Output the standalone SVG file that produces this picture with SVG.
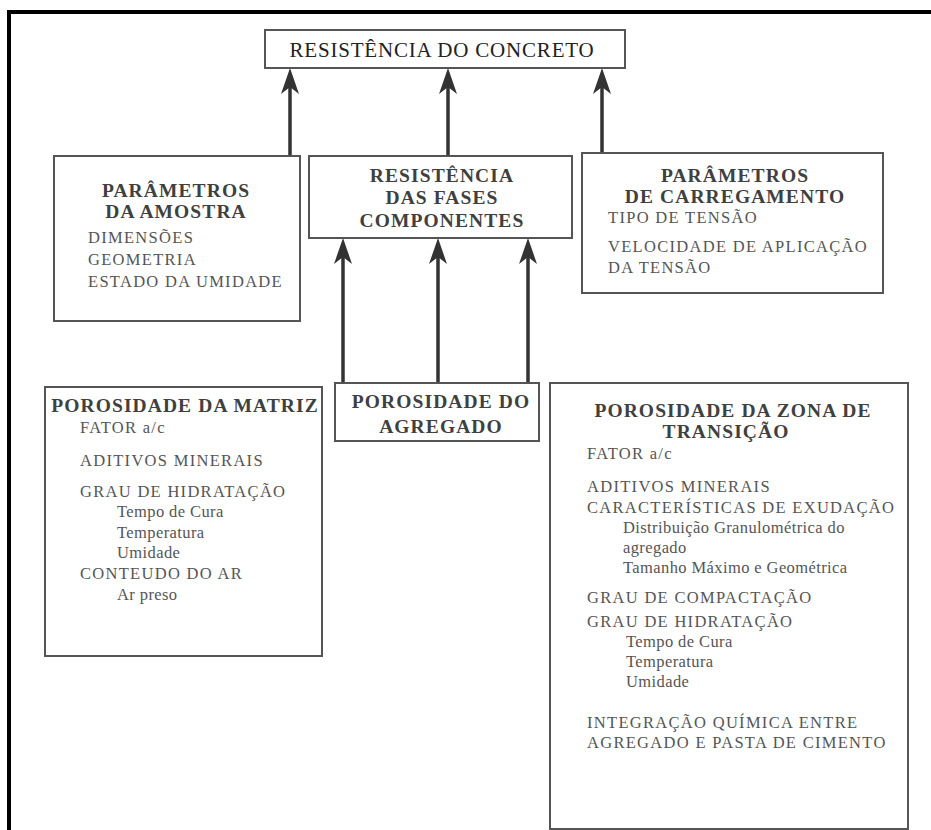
<svg xmlns="http://www.w3.org/2000/svg" width="931" height="830" viewBox="0 0 931 830">
<style>
.box{fill:#fff;stroke:#555;stroke-width:2}
.hd{font-family:"Liberation Serif","Times New Roman",serif;font-weight:bold;font-size:19.5px;letter-spacing:1.1px;fill:#404040;text-anchor:middle}
.it{font-family:"Liberation Serif","Times New Roman",serif;font-size:16.5px;letter-spacing:1.3px;fill:#555}
.lc{font-family:"Liberation Serif","Times New Roman",serif;font-size:16.5px;letter-spacing:0.4px;fill:#555}
.top{font-family:"Liberation Serif","Times New Roman",serif;font-size:21px;letter-spacing:0.8px;fill:#222;text-anchor:middle}
.arr{stroke:#333;stroke-width:3.5;fill:none;marker-end:url(#ah)}
.frame{stroke:#000;stroke-width:4}
</style>
<defs>
<marker id="ah" markerUnits="userSpaceOnUse" viewBox="-1 -10 28 20" markerWidth="28" markerHeight="20" refX="18" refY="0" orient="auto">
<path d="M26,0 L0,-9 L7,0 L0,9 Z" fill="#333"/>
</marker>
</defs>
<rect width="931" height="830" fill="#fff"/>
<g id="frame">
<line class="frame" x1="7" y1="12" x2="931" y2="12"/>
<line class="frame" x1="9" y1="10" x2="9" y2="830"/>
</g>
<g id="connectors">
<line class="arr" x1="290" y1="156" x2="290" y2="76"/>
<line class="arr" x1="448" y1="156" x2="448" y2="76"/>
<line class="arr" x1="602" y1="153" x2="602" y2="76"/>
<line class="arr" x1="343" y1="383" x2="343" y2="246"/>
<line class="arr" x1="438" y1="383" x2="438" y2="246"/>
<line class="arr" x1="528" y1="383" x2="528" y2="246"/>
</g>
<g id="n-concreto">
<rect class="box" x="265" y="30" width="360" height="38"/>
<text class="top" x="442" y="57">RESISTÊNCIA DO CONCRETO</text>
</g>
<g id="n-amostra">
<rect class="box" x="54" y="156" width="246" height="165"/>
<text class="hd" x="176" y="197">PARÂMETROS</text>
<text class="hd" x="176" y="218">DA AMOSTRA</text>
<text class="it" x="88" y="243">DIMENSÕES</text>
<text class="it" x="88" y="265">GEOMETRIA</text>
<text class="it" x="88" y="287">ESTADO DA UMIDADE</text>
</g>
<g id="n-fases">
<rect class="box" x="309" y="156" width="263" height="82"/>
<text class="hd" x="442" y="182">RESISTÊNCIA</text>
<text class="hd" x="442" y="204">DAS FASES</text>
<text class="hd" x="442" y="227">COMPONENTES</text>
</g>
<g id="n-carregamento">
<rect class="box" x="582" y="153" width="301" height="140"/>
<text class="hd" x="735" y="182">PARÂMETROS</text>
<text class="hd" x="735" y="203">DE CARREGAMENTO</text>
<text class="it" x="608" y="223">TIPO DE TENSÃO</text>
<text class="it" x="608" y="252">VELOCIDADE DE APLICAÇÃO</text>
<text class="it" x="608" y="273">DA TENSÃO</text>
</g>
<g id="n-matriz">
<rect class="box" x="45" y="387" width="277" height="269"/>
<text class="hd" x="185" y="412">POROSIDADE DA MATRIZ</text>
<text class="it" x="80" y="433">FATOR a/c</text>
<text class="it" x="80" y="466">ADITIVOS MINERAIS</text>
<text class="it" x="80" y="497">GRAU DE HIDRATAÇÃO</text>
<text class="lc" x="117" y="517">Tempo de Cura</text>
<text class="lc" x="117" y="538">Temperatura</text>
<text class="lc" x="117" y="558">Umidade</text>
<text class="it" x="80" y="579">CONTEUDO DO AR</text>
<text class="lc" x="117" y="600">Ar preso</text>
</g>
<g id="n-agregado">
<rect class="box" x="335" y="383" width="204" height="58"/>
<text class="hd" x="441" y="408">POROSIDADE DO</text>
<text class="hd" x="441" y="433">AGREGADO</text>
</g>
<g id="n-zona">
<rect class="box" x="550" y="383" width="358" height="446"/>
<text class="hd" x="733" y="417">POROSIDADE DA ZONA DE</text>
<text class="hd" x="726" y="438">TRANSIÇÃO</text>
<text class="it" x="587" y="459">FATOR a/c</text>
<text class="it" x="587" y="492">ADITIVOS MINERAIS</text>
<text class="it" x="587" y="513">CARACTERÍSTICAS DE EXUDAÇÃO</text>
<text class="lc" x="623" y="533">Distribuição Granulométrica do</text>
<text class="lc" x="623" y="553">agregado</text>
<text class="lc" x="623" y="573">Tamanho Máximo e Geométrica</text>
<text class="it" x="587" y="603">GRAU DE COMPACTAÇÃO</text>
<text class="it" x="587" y="627">GRAU DE HIDRATAÇÃO</text>
<text class="lc" x="626" y="647">Tempo de Cura</text>
<text class="lc" x="626" y="667">Temperatura</text>
<text class="lc" x="626" y="687">Umidade</text>
<text class="it" x="587" y="728">INTEGRAÇÃO QUÍMICA ENTRE</text>
<text class="it" x="587" y="748">AGREGADO E PASTA DE CIMENTO</text>
</g>
</svg>
